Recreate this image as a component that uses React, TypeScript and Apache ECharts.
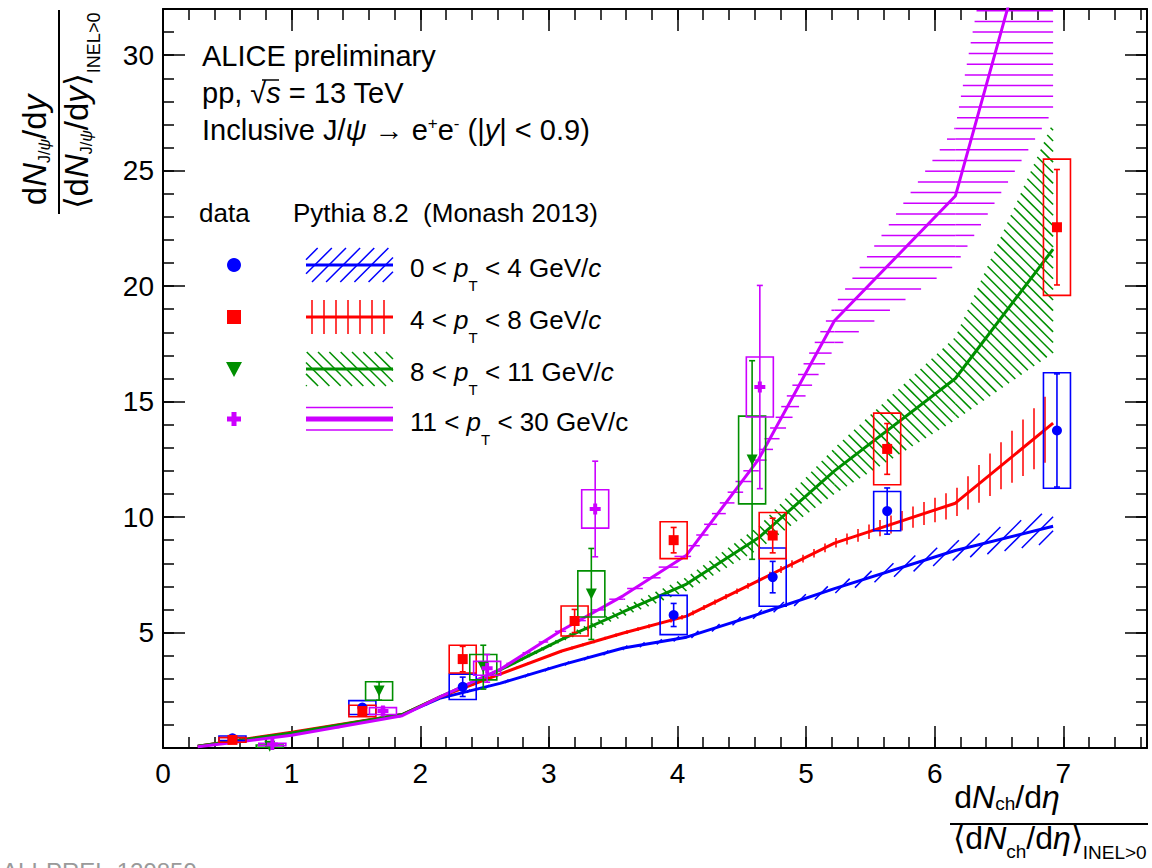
import React, { useEffect, useRef } from "react";
import * as echarts from "echarts";

const FONT = "'Liberation Sans', Arial, Helvetica, sans-serif";
const BLUE = "#0000ff";
const RED = "#ff0000";
const GREEN = "#008f00";
const MAGENTA = "#cc00ff";

// ---------- Pythia 8.2 (Monash 2013) model curves ----------
const modelX = [0.27, 1.0, 1.86, 2.15, 2.62, 3.1, 3.58, 4.07, 4.63, 5.22, 6.16, 6.92];
const pyBlue = [0.08, 0.62, 1.45, 2.15, 2.8, 3.6, 4.33, 4.8, 5.8, 6.9, 8.55, 9.6];
const pyBlueLo = [0.02, 0.03, 0.04, 0.05, 0.05, 0.06, 0.08, 0.1, 0.13, 0.2, 0.4, 0.7];
const pyBlueHi = [0.02, 0.03, 0.04, 0.05, 0.05, 0.06, 0.08, 0.1, 0.13, 0.2, 0.4, 0.7];
const pyRed = [0.08, 0.68, 1.45, 2.2, 3.2, 4.2, 4.98, 5.71, 7.25, 8.87, 10.6, 14.07];
const pyRedLo = [0.02, 0.03, 0.04, 0.05, 0.05, 0.06, 0.08, 0.1, 0.13, 0.2, 0.6, 1.5];
const pyRedHi = [0.02, 0.03, 0.04, 0.05, 0.05, 0.06, 0.08, 0.1, 0.13, 0.2, 0.6, 1.5];
const pyGreen = [0.08, 0.65, 1.45, 2.2, 3.38, 4.7, 5.9, 7.1, 9.1, 12.0, 16.0, 21.6];
const pyGreenLo = [0.02, 0.03, 0.04, 0.05, 0.06, 0.1, 0.2, 0.3, 0.5, 1.0, 1.8, 4.5];
const pyGreenHi = [0.02, 0.03, 0.04, 0.05, 0.06, 0.1, 0.2, 0.3, 0.5, 1.0, 1.8, 5.5];
const pyMag = [0.05, 0.55, 1.4, 2.2, 3.4, 5.1, 6.6, 8.35, 12.5, 18.5, 23.9, 39.1];
const pyMagLo = [0.02, 0.03, 0.04, 0.05, 0.08, 0.15, 0.2, 0.3, 0.6, 1.2, 3.0, 11.5];
const pyMagHi = [0.02, 0.03, 0.04, 0.05, 0.08, 0.15, 0.2, 0.3, 0.4, 0.7, 3.0, 11.0];

// ---------- ALICE data ----------
const dBlueX = [0.54, 1.55, 2.33, 3.97, 4.74, 5.63, 6.95];
const dBlueY = [0.42, 1.75, 2.65, 5.76, 7.4, 10.26, 13.75];
const dBlueStat = [0.06, 0.12, 0.42, 0.5, 0.68, 1.0, 2.45];
const dBlueSys = [0.1, 0.3, 0.55, 0.85, 1.26, 0.85, 2.5];

const dRedX = [0.54, 1.55, 2.33, 3.2, 3.97, 4.74, 5.63, 6.95];
const dRedY = [0.35, 1.6, 3.85, 5.5, 9.0, 9.2, 12.95, 22.55];
const dRedStat = [0.05, 0.15, 0.55, 0.5, 0.55, 0.75, 1.1, 2.5];
const dRedSys = [0.1, 0.25, 0.6, 0.65, 0.8, 1.0, 1.55, 2.95];

const dGreenX = [0.83, 1.68, 2.49, 3.33, 4.58];
const dGreenY = [0.08, 2.47, 3.5, 6.67, 12.47];
const dGreenStat = [0.05, 0.4, 0.95, 1.97, 4.3];
const dGreenSys = [0.05, 0.4, 0.55, 1.0, 1.9];

const dMagX = [0.85, 1.71, 2.52, 3.36, 4.64];
const dMagY = [0.15, 1.6, 3.45, 10.35, 15.63];
const dMagStat = [0.05, 0.15, 0.6, 2.07, 4.4];
const dMagSys = [0.05, 0.15, 0.3, 0.83, 1.3];

const xTicksMax = 7.65;
const yTicksMax = 32;
const BOX_HW = 0.105;

const legendLabels = [
  "{n|0 < }{i|p}{sub|T}{n| < 4 GeV/}{i|c}",
  "{n|4 < }{i|p}{sub|T}{n| < 8 GeV/}{i|c}",
  "{n|8 < }{i|p}{sub|T}{n| < 11 GeV/}{i|c}",
  "{n|11 < }{i|p}{sub|T}{n| < 30 GeV/c}",
];

type Pt = number[];

function hatchSegments(poly: Pt[], dir: number[], spacing: number): Pt[][] {
  const len = Math.hypot(dir[0], dir[1]);
  const dx = dir[0] / len, dy = dir[1] / len;
  const nx = -dy, ny = dx;
  const proj = poly.map((p) => p[0] * nx + p[1] * ny);
  const cmin = Math.min(...proj), cmax = Math.max(...proj);
  const segs: Pt[][] = [];
  for (let k = Math.ceil(cmin / spacing); k * spacing <= cmax; k++) {
    const c = k * spacing;
    const pts: Pt[] = [];
    for (let i = 0; i < poly.length; i++) {
      const j = (i + 1) % poly.length;
      const pa = proj[i] - c, pb = proj[j] - c;
      if ((pa <= 0 && pb > 0) || (pa > 0 && pb <= 0)) {
        const t = pa / (pa - pb);
        pts.push([poly[i][0] + t * (poly[j][0] - poly[i][0]), poly[i][1] + t * (poly[j][1] - poly[i][1])]);
      }
    }
    if (pts.length >= 2) {
      pts.sort((p, q) => p[0] * dx + p[1] * dy - (q[0] * dx + q[1] * dy));
      for (let m = 0; m + 1 < pts.length; m += 2) segs.push([pts[m], pts[m + 1]]);
    }
  }
  return segs;
}

function richSet(F: number, f: number, drop: number, f2: number, drop2: number, supRise = 0) {
  const s = 0.35 * (F - f) + drop;
  const s2 = 0.35 * (F - f2) + drop2;
  const u = 0.35 * (F - f) - supRise;
  const base = { fontFamily: FONT, fill: "#000", color: "#000" };
  const pad = (v: number) => [Math.max(0, 2 * v), 0, Math.max(0, -2 * v), 0];
  return {
    n: { ...base, fontSize: F },
    i: { ...base, fontSize: F, fontStyle: "italic" },
    sub: { ...base, fontSize: f, padding: pad(s) },
    subi: { ...base, fontSize: f, fontStyle: "italic", padding: pad(s) },
    sub2: { ...base, fontSize: f2, padding: pad(s2) },
    sup: { ...base, fontSize: f, padding: pad(u) },
  };
}

function textEl(x: number, y: number, text: string, rich: any, align = "left", rotation = 0, fill = "#000") {
  return {
    type: "text",
    x,
    y,
    rotation,
    silent: true,
    style: {
      text,
      rich,
      fill,
      fontFamily: FONT,
      align,
      textAlign: align,
      verticalAlign: "middle",
      textVerticalAlign: "middle",
    },
  };
}

function bandSeries(name: string, color: string, ys: number[], lo: number[], hi: number[], dir: number[], spacing: number) {
  return {
    type: "custom",
    name,
    clip: true,
    silent: true,
    z: 2,
    data: modelX.slice(0, -1).map((x, i) => [x, modelX[i + 1], ys[i] - lo[i], ys[i] + hi[i], ys[i + 1] - lo[i + 1], ys[i + 1] + hi[i + 1]]),
    encode: { x: [0, 1], y: [2, 3, 4, 5] },
    renderItem: (params: any, api: any) => {
      const x0 = api.value(0), x1 = api.value(1);
      const a = api.coord([x0, api.value(2)]);
      const b = api.coord([x1, api.value(4)]);
      const c = api.coord([x1, api.value(5)]);
      const d = api.coord([x0, api.value(3)]);
      const segs = hatchSegments([a, b, c, d], dir, spacing);
      return {
        type: "group",
        children: segs.map((s) => ({
          type: "line",
          shape: { x1: s[0][0], y1: s[0][1], x2: s[1][0], y2: s[1][1] },
          style: { stroke: color, lineWidth: 1.5 },
        })),
      };
    },
  };
}

function lineSeries(name: string, color: string, ys: number[]) {
  return {
    type: "line",
    name,
    z: 3,
    silent: true,
    showSymbol: false,
    symbol: "none",
    clip: true,
    data: modelX.map((x, i) => [x, ys[i]]),
    lineStyle: { color, width: 3 },
    itemStyle: { color },
  };
}

function errSeries(name: string, color: string, xs: number[], ys: number[], stat: number[], sys: number[]) {
  return {
    type: "custom",
    name,
    clip: true,
    silent: true,
    z: 4,
    data: xs.map((x, i) => [x, ys[i], stat[i], sys[i]]),
    encode: { x: 0, y: 1 },
    renderItem: (params: any, api: any) => {
      const x = api.value(0), y = api.value(1), st = api.value(2), sy = api.value(3);
      const bl = api.coord([x - BOX_HW, y - sy]);
      const tr = api.coord([x + BOX_HW, y + sy]);
      const top = api.coord([x, y + st]);
      const bot = api.coord([x, y - st]);
      const cap = 3;
      const style = { stroke: color, fill: "none", lineWidth: 1.6 };
      return {
        type: "group",
        children: [
          { type: "rect", shape: { x: bl[0], y: tr[1], width: tr[0] - bl[0], height: bl[1] - tr[1] }, style },
          { type: "line", shape: { x1: top[0], y1: top[1], x2: bot[0], y2: bot[1] }, style },
          { type: "line", shape: { x1: top[0] - cap, y1: top[1], x2: top[0] + cap, y2: top[1] }, style },
          { type: "line", shape: { x1: bot[0] - cap, y1: bot[1], x2: bot[0] + cap, y2: bot[1] }, style },
        ],
      };
    },
  };
}

const PLUS = "path://M3.2,0H6.8V3.2H10V6.8H6.8V10H3.2V6.8H0V3.2H3.2Z";

function markerSeries(name: string, color: string, xs: number[], ys: number[], symbol: string, size: number, rotate = 0) {
  return {
    type: "scatter",
    name,
    z: 5,
    silent: true,
    symbol,
    symbolSize: size,
    symbolRotate: rotate,
    data: xs.map((x, i) => [x, ys[i]]),
    itemStyle: { color, opacity: 1 },
  };
}

function axisX(interval: number, position: string, major: boolean) {
  return {
    type: "value",
    min: 0,
    max: xTicksMax,
    interval,
    position,
    axisLine: { show: major, onZero: false, lineStyle: { color: "#000", width: 2 } },
    axisTick: { show: true, inside: true, length: major ? 22 : 11, lineStyle: { color: "#000", width: 1.5 } },
    axisLabel: {
      show: major && position === "bottom",
      fontSize: 28,
      fontFamily: FONT,
      color: "#000",
      margin: 11,
      showMaxLabel: false,
    },
    splitLine: { show: false },
  };
}

function axisY(interval: number, position: string, major: boolean) {
  return {
    type: "value",
    min: 0,
    max: yTicksMax,
    interval,
    position,
    axisLine: { show: major, onZero: false, lineStyle: { color: "#000", width: 2 } },
    axisTick: { show: true, inside: true, length: major ? 22 : 11, lineStyle: { color: "#000", width: 1.5 } },
    axisLabel: {
      show: major && position === "left",
      fontSize: 28,
      fontFamily: FONT,
      color: "#000",
      margin: 9,
      showMinLabel: false,
      showMaxLabel: false,
    },
    splitLine: { show: false },
  };
}

function buildGraphics() {
  const els: any[] = [];
  const hdr = richSet(29, 17, 0, 17, 0, 11);
  els.push(textEl(202, 56, "{n|ALICE preliminary}", hdr));
  els.push(textEl(202, 93, "{n|pp, √}{i|s}{n| = 13 TeV}", hdr));
  els.push(textEl(202, 130, "{n|Inclusive J/}{i|ψ}{n| → e}{sup|+}{n|e}{sup|-}{n| (|}{i|y}{n|| < 0.9)}", hdr));
  // overline of sqrt
  els.push({ type: "line", silent: true, shape: { x1: 262, y1: 80, x2: 279, y2: 80 }, style: { stroke: "#000", lineWidth: 1.5 } });

  const leg = richSet(26, 15, 14, 15, 14);
  els.push(textEl(199, 213, "{n|data}", leg));
  els.push(textEl(293, 213, "{n|Pythia 8.2  (Monash 2013)}", leg));

  const rows = [265, 317, 369, 419];
  const colors = [BLUE, RED, GREEN, MAGENTA];
  const dirs = [[1, -1], [0, 1], [1, 1], [1, 0]];
  const spac = [10, 12, 8, 11.5];
  const lx0 = 306, lx1 = 393, hh = 17;
  rows.forEach((ry, k) => {
    const col = colors[k];
    if (k === 0) els.push({ type: "circle", silent: true, shape: { cx: 234, cy: ry, r: 7 }, style: { fill: col } });
    if (k === 1) els.push({ type: "rect", silent: true, shape: { x: 227, y: ry - 7, width: 14, height: 14 }, style: { fill: col } });
    if (k === 2) els.push({ type: "polygon", silent: true, shape: { points: [[226, ry - 7], [242, ry - 7], [234, ry + 8]] }, style: { fill: col } });
    if (k === 3)
      els.push({
        type: "polygon",
        silent: true,
        shape: { points: [[231.5, ry - 7], [236.5, ry - 7], [236.5, ry - 2.5], [241, ry - 2.5], [241, ry + 2.5], [236.5, ry + 2.5], [236.5, ry + 7], [231.5, ry + 7], [231.5, ry + 2.5], [227, ry + 2.5], [227, ry - 2.5], [231.5, ry - 2.5]] },
        style: { fill: col },
      });
    if (k === 3) {
      els.push({ type: "line", silent: true, shape: { x1: lx0, y1: ry - 11.5, x2: lx1, y2: ry - 11.5 }, style: { stroke: col, lineWidth: 1.5 } });
      els.push({ type: "line", silent: true, shape: { x1: lx0, y1: ry + 11, x2: lx1, y2: ry + 11 }, style: { stroke: col, lineWidth: 1.5 } });
    } else {
      const segs = hatchSegments([[lx0, ry - hh], [lx1, ry - hh], [lx1, ry + hh], [lx0, ry + hh]], dirs[k], spac[k]);
      segs.forEach((s) =>
        els.push({ type: "line", silent: true, shape: { x1: s[0][0], y1: s[0][1], x2: s[1][0], y2: s[1][1] }, style: { stroke: col, lineWidth: 1.5 } })
      );
    }
    els.push({ type: "line", silent: true, shape: { x1: lx0, y1: ry, x2: lx1, y2: ry }, style: { stroke: col, lineWidth: k === 3 ? 5 : 3 } });
    els.push(textEl(410, ry + 3, legendLabels[k], leg));
  });

  // y-axis title (rotated)
  const yt = richSet(33, 16, 5, 18, 13);
  els.push(textEl(34, 150, "{n|d}{i|N}{sub|J/}{subi|ψ}{n|/d}{i|y}", yt, "center", Math.PI / 2));
  els.push({ type: "line", silent: true, shape: { x1: 59, y1: 10, x2: 59, y2: 214 }, style: { stroke: "#000", lineWidth: 2 } });
  els.push(textEl(76, 111, "{n|⟨d}{i|N}{sub|J/}{subi|ψ}{n|/d}{i|y}{n|⟩}{sub2|INEL>0}", yt, "center", Math.PI / 2));

  // x-axis title
  const xt = richSet(32, 19, 2, 19, 10);
  els.push(textEl(1007, 797, "{n|d}{i|N}{sub|ch}{n|/d}{i|η}", xt, "center"));
  els.push({ type: "line", silent: true, shape: { x1: 950, y1: 824, x2: 1148, y2: 824 }, style: { stroke: "#000", lineWidth: 2 } });
  const xt2 = richSet(32, 19, 9, 19, 10);
  els.push(textEl(1050, 838, "{n|⟨d}{i|N}{sub|ch}{n|/d}{i|η}{n|⟩}{sub2|INEL>0}", xt2, "center"));

  // preliminary id (cut at page bottom, as in the reference)
  els.push(textEl(2, 871, "{g|ALI-PREL-129859}", { g: { fontSize: 24, fontFamily: FONT, fill: "#9a9a9a", color: "#9a9a9a" } }));
  return els;
}

export default function App() {
  const ref = useRef<HTMLDivElement>(null);
  useEffect(() => {
    if (!ref.current) return;
    const chart = echarts.init(ref.current, undefined, { renderer: "svg" });
    const option: any = {
      animation: false,
      backgroundColor: "#ffffff",
      grid: { left: 163, right: 5, top: 9, bottom: 120, containLabel: false },
      xAxis: [axisX(1, "bottom", true), axisX(0.2, "bottom", false), axisX(1, "top", true), axisX(0.2, "top", false)],
      yAxis: [axisY(5, "left", true), axisY(1, "left", false), axisY(5, "right", true), axisY(1, "right", false)],
      series: [
        bandSeries("band-blue", BLUE, pyBlue, pyBlueLo, pyBlueHi, [1, -1], 10),
        bandSeries("band-red", RED, pyRed, pyRedLo, pyRedHi, [0, 1], 11),
        bandSeries("band-green", GREEN, pyGreen, pyGreenLo, pyGreenHi, [1, 1], 7.5),
        bandSeries("band-mag", MAGENTA, pyMag, pyMagLo, pyMagHi, [1, 0], 10.7),
        lineSeries("Pythia 0-4", BLUE, pyBlue),
        lineSeries("Pythia 4-8", RED, pyRed),
        lineSeries("Pythia 8-11", GREEN, pyGreen),
        lineSeries("Pythia 11-30", MAGENTA, pyMag),
        errSeries("err-blue", BLUE, dBlueX, dBlueY, dBlueStat, dBlueSys),
        errSeries("err-red", RED, dRedX, dRedY, dRedStat, dRedSys),
        errSeries("err-green", GREEN, dGreenX, dGreenY, dGreenStat, dGreenSys),
        errSeries("err-mag", MAGENTA, dMagX, dMagY, dMagStat, dMagSys),
        markerSeries("data 0-4", BLUE, dBlueX, dBlueY, "circle", 10),
        markerSeries("data 4-8", RED, dRedX, dRedY, "rect", 10),
        markerSeries("data 8-11", GREEN, dGreenX, dGreenY, "triangle", 11, 180),
        markerSeries("data 11-30", MAGENTA, dMagX, dMagY, PLUS, 11),
      ],
      graphic: { elements: buildGraphics() },
    };
    chart.setOption(option);
    return () => chart.dispose();
  }, []);
  return <div ref={ref} style={{ position: "absolute", left: 0, top: 0, width: 1152, height: 868, background: "#fff" }} />;
}
